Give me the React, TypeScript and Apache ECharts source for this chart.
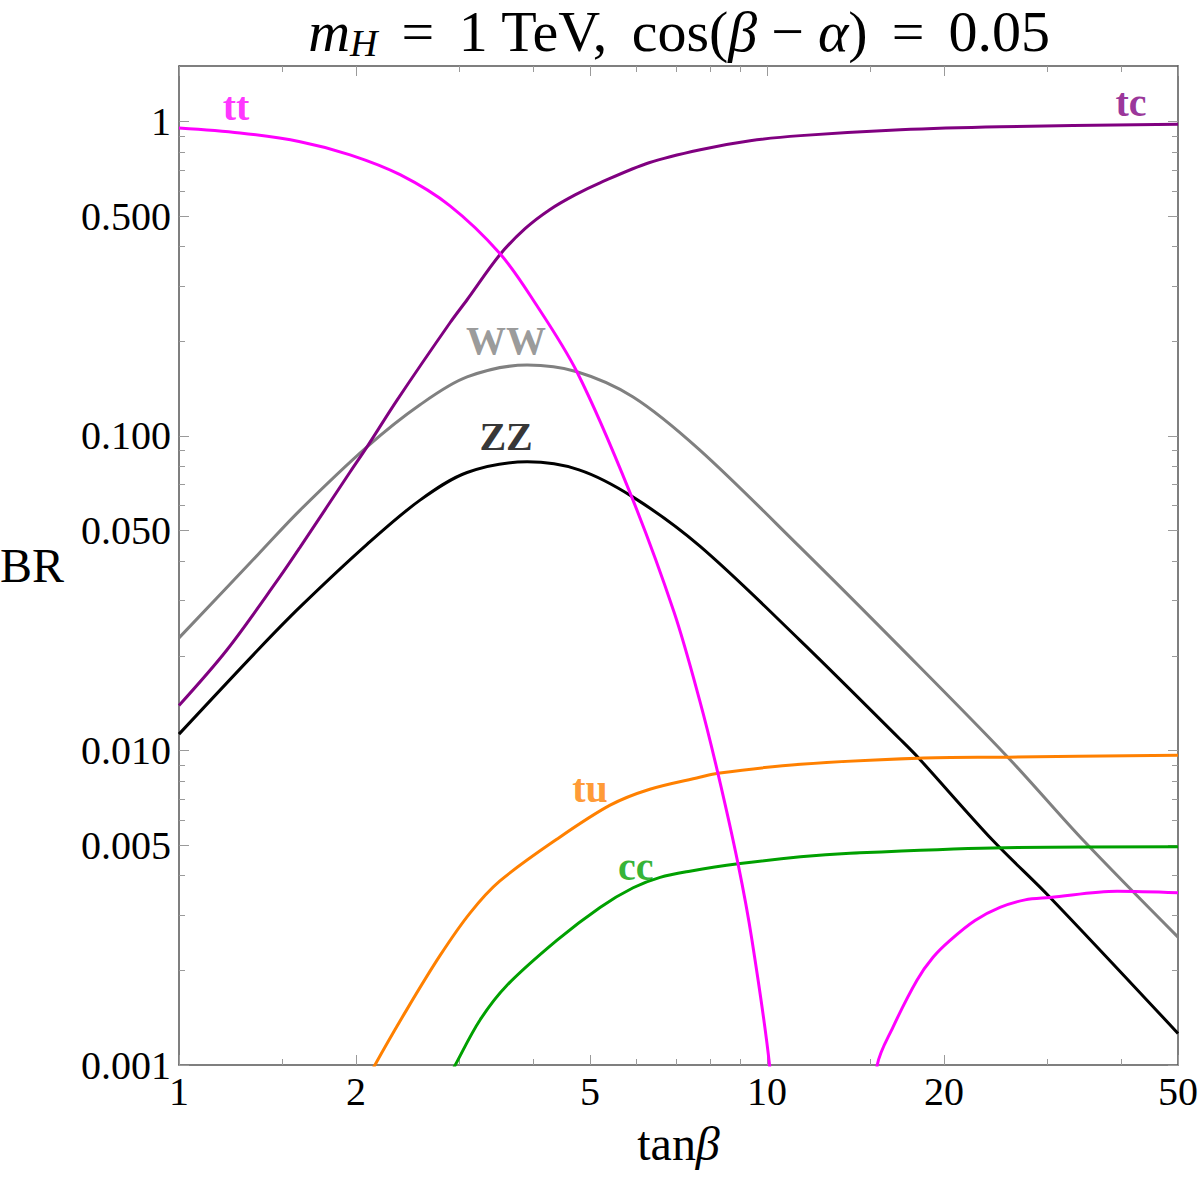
import React, { useEffect, useRef } from 'react';
import * as echarts from 'echarts';

// ---- axis ticks ----
const X_MAJOR = [1, 2, 5, 10, 20, 50];
const X_MINOR = [1.5, 3, 4, 6, 7, 8, 9, 15, 30, 40];
const Y_MAJOR = [0.001, 0.005, 0.01, 0.05, 0.1, 0.5, 1];
const Y_MINOR = [0.002, 0.003, 0.004, 0.006, 0.007, 0.008, 0.009, 0.02, 0.03, 0.04, 0.06, 0.07, 0.08, 0.09, 0.2, 0.3, 0.4, 0.6, 0.7, 0.8, 0.9];

// ---- series (tanβ, BR) ----
const TT_X = [1, 1.27, 1.607, 1.954, 2.377, 2.89, 3.51, 4.0, 4.75, 5.85, 6.95, 7.68, 8.25, 8.93, 9.43, 10.1, 10.35, 12.5, 14.97, 15.4, 16.38, 17.99, 19.16, 20.48, 22.58, 24.9, 27.47, 30.3, 39.4, 50];
const TT_Y = [0.953, 0.919, 0.862, 0.783, 0.677, 0.539, 0.381, 0.271, 0.16, 0.0659, 0.0275, 0.01446, 0.00847, 0.00435, 0.00249, 0.001, 0.0005, null, 0.0005, 0.001, 0.00132, 0.00186, 0.0022, 0.00249, 0.00288, 0.00317, 0.00335, 0.00341, 0.00357, 0.00353];

const TC_X = [1, 1.207, 1.479, 1.607, 1.954, 2.088, 2.349, 2.89, 3.09, 3.51, 3.877, 4.27, 4.716, 5.2, 6.3, 7.7, 9.36, 11.4, 16.85, 24.9, 50];
const TC_Y = [0.0139, 0.0209, 0.0353, 0.0443, 0.0768, 0.0923, 0.13, 0.229, 0.271, 0.376, 0.456, 0.524, 0.584, 0.638, 0.739, 0.813, 0.868, 0.901, 0.941, 0.962, 0.98];

const WW_X = [1, 1.363, 1.607, 2.088, 2.57, 3.09, 3.91, 4.75, 5.92, 7.68, 11.38, 16.84, 25.7, 34.5, 50];
const WW_Y = [0.0228, 0.042, 0.0581, 0.0923, 0.1256, 0.154, 0.168, 0.16, 0.133, 0.0903, 0.0443, 0.0213, 0.0095, 0.00518, 0.00255];

const ZZ_X = [1, 1.363, 1.607, 2.088, 2.57, 3.09, 3.91, 4.79, 5.91, 7.68, 11.38, 16.84, 18.07, 24.2, 30.3, 50];
const ZZ_Y = [0.01127, 0.0209, 0.0286, 0.0452, 0.0625, 0.0765, 0.0827, 0.078, 0.064, 0.0447, 0.0224, 0.01086, 0.0095, 0.00518, 0.00341, 0.00126];

const TU_X = [2.05, 2.154, 2.44, 2.78, 3.125, 3.51, 4.39, 5.41, 6.32, 7.68, 8.25, 11.4, 18.07, 25.7, 50];
const TU_Y = [0.00083, 0.001, 0.0015, 0.00223, 0.00304, 0.00384, 0.00522, 0.0067, 0.00753, 0.00822, 0.00847, 0.00904, 0.00945, 0.00952, 0.00966];

const CC_X = [2.85, 2.95, 3.25, 3.61, 4.39, 5.2, 5.92, 6.58, 7.39, 8.93, 11.4, 13.84, 24.2, 50];
const CC_Y = [0.00088, 0.001, 0.00139, 0.00179, 0.00249, 0.00317, 0.00366, 0.00395, 0.00413, 0.00436, 0.00459, 0.00471, 0.0049, 0.00494];

// ---- curve labels ----
const LABEL_TEXT = ['tt', 'tc', 'WW', 'ZZ', 'tu', 'cc'];
const LABEL_X = [1.25, 41.6, 3.6, 3.6, 5.0, 5.98];
const LABEL_Y = [1.114, 1.147, 0.2005, 0.0993, 0.00759, 0.00428];
const LABEL_COLOR = ['#ff00ff', '#800080', '#808080', '#000000', '#ff8000', '#00a000'];

const SERIF = '"Liberation Serif", "Times New Roman", serif';

function zip(xs: number[], ys: (number | null)[]) {
  return xs.map((x, i) => [x, ys[i] === null ? '-' : ys[i]]);
}

function lineSeries(name: string, xs: number[], ys: (number | null)[], color: string) {
  return {
    name,
    type: 'line',
    data: zip(xs, ys),
    showSymbol: false,
    symbol: 'none',
    smooth: 0.33,
    connectNulls: false,
    clip: true,
    lineStyle: { color, width: 3 },
    itemStyle: { color },
    xAxisIndex: 0,
    yAxisIndex: 0,
  };
}

const AXIS_LINE = { show: true, lineStyle: { color: '#555', width: 1.5 } };
const TICK_COLOR = '#9a9a9a';

function xAxisDef(position: string, ticks: number[], major: boolean, labels: boolean) {
  return {
    type: 'log',
    logBase: 10,
    min: 1,
    max: 50,
    gridIndex: 0,
    position,
    axisLine: major ? AXIS_LINE : { show: false },
    axisTick: { show: true, inside: true, length: major ? 10 : 6, customValues: ticks, lineStyle: { color: TICK_COLOR, width: 1 } },
    axisLabel: labels
      ? { show: true, customValues: X_MAJOR, formatter: (v: number) => String(Math.round(v)), fontSize: 40, fontFamily: SERIF, color: '#000', margin: 6, showMinLabel: true, showMaxLabel: true, hideOverlap: false }
      : { show: false },
    splitLine: { show: false },
    minorTick: { show: false },
  };
}

function yAxisDef(position: string, ticks: number[], major: boolean, labels: boolean) {
  return {
    type: 'log',
    logBase: 10,
    min: 0.001,
    max: 1.5,
    gridIndex: 0,
    position,
    axisLine: major ? AXIS_LINE : { show: false },
    axisTick: { show: true, inside: true, length: major ? 10 : 6, customValues: ticks, lineStyle: { color: TICK_COLOR, width: 1 } },
    axisLabel: labels
      ? { show: true, customValues: Y_MAJOR, formatter: (v: number) => (v >= 0.999 ? '1' : v.toFixed(3)), fontSize: 40, fontFamily: SERIF, color: '#000', margin: 8, showMinLabel: true, showMaxLabel: true, hideOverlap: false }
      : { show: false },
    splitLine: { show: false },
    minorTick: { show: false },
  };
}

export default function App() {
  const ref = useRef<HTMLDivElement>(null);
  useEffect(() => {
    if (!ref.current) return;
    const chart = echarts.init(ref.current, undefined, { renderer: 'svg' });

    const xMain: any = xAxisDef('bottom', X_MAJOR, true, true);
    xMain.name = '{n|tan}{i|β}';
    xMain.nameLocation = 'middle';
    xMain.nameGap = 52;
    xMain.nameMoveOverlap = false;
    xMain.nameTextStyle = {
      color: '#000',
      rich: {
        n: { fontFamily: SERIF, fontSize: 48, color: '#000', lineHeight: 52 },
        i: { fontFamily: SERIF, fontSize: 48, fontStyle: 'italic', color: '#000', lineHeight: 52 },
      },
    };

    const yMain: any = yAxisDef('left', Y_MAJOR, true, true);
    yMain.name = 'BR';
    yMain.nameLocation = 'middle';
    yMain.nameRotate = 0;
    yMain.nameGap = 115;
    yMain.nameMoveOverlap = false;
    yMain.nameTextStyle = { fontFamily: SERIF, fontSize: 48, color: '#000' };

    const labelData = LABEL_TEXT.map((t, i) => ({
      value: [LABEL_X[i], LABEL_Y[i]],
      label: { formatter: t, color: LABEL_COLOR[i] },
    }));

    const TF = 58;
    const option: any = {
      animation: false,
      backgroundColor: '#fff',
      grid: { left: 179, right: 22, top: 66, bottom: 113, containLabel: false, outerBoundsMode: 'none', show: false },
      xAxis: [
        xMain,
        xAxisDef('bottom', X_MINOR, false, false),
        xAxisDef('top', X_MAJOR, true, false),
        xAxisDef('top', X_MINOR, false, false),
      ],
      yAxis: [
        yMain,
        yAxisDef('left', Y_MINOR, false, false),
        yAxisDef('right', Y_MAJOR, true, false),
        yAxisDef('right', Y_MINOR, false, false),
      ],
      graphic: [
        {
          type: 'text',
          x: 679,
          y: 31,
          style: {
            text: '{mi|m}{sub|H}{eq|=}{n|1 TeV,}{cs|cos(}{i|β}{mn|−}{i|α}{n|)}{eq|=}{n|0.05}',
            align: 'center',
            verticalAlign: 'middle',
            textAlign: 'center',
            textVerticalAlign: 'middle',
            fill: '#000',
            rich: {
              mi: { fontFamily: SERIF, fontStyle: 'italic', fontSize: TF, lineHeight: 62, fill: '#000' },
              sub: { fontFamily: SERIF, fontStyle: 'italic', fontSize: 38, lineHeight: 30, verticalAlign: 'bottom', fill: '#000' },
              n: { fontFamily: SERIF, fontSize: TF, lineHeight: 62, fill: '#000' },
              eq: { fontFamily: SERIF, fontSize: TF, lineHeight: 62, fill: '#000', padding: [0, 24, 0, 24] },
              cs: { fontFamily: SERIF, fontSize: TF, lineHeight: 62, fill: '#000', padding: [0, 0, 0, 24] },
              mn: { fontFamily: SERIF, fontSize: TF, lineHeight: 62, fill: '#000', padding: [0, 14, 0, 14] },
              i: { fontFamily: SERIF, fontStyle: 'italic', fontSize: TF, lineHeight: 62, fill: '#000' },
            },
          },
        },
      ],
      series: [
        lineSeries('WW', WW_X, WW_Y, '#808080'),
        lineSeries('ZZ', ZZ_X, ZZ_Y, '#000000'),
        lineSeries('tu', TU_X, TU_Y, '#ff8000'),
        lineSeries('cc', CC_X, CC_Y, '#00a000'),
        lineSeries('tc', TC_X, TC_Y, '#800080'),
        lineSeries('tt', TT_X, TT_Y, '#ff00ff'),
        {
          name: 'labels',
          type: 'scatter',
          xAxisIndex: 0,
          yAxisIndex: 0,
          symbolSize: 0.01,
          itemStyle: { color: 'transparent' },
          silent: true,
          clip: false,
          data: labelData,
          label: { show: true, position: 'inside', fontFamily: SERIF, fontWeight: 'bold', fontSize: 40 },
          z: 10,
        },
      ],
    };
    chart.setOption(option);
    return () => chart.dispose();
  }, []);
  return <div ref={ref} style={{ position: 'fixed', left: 0, top: 0, width: 1200, height: 1178, background: '#fff' }} />;
}
